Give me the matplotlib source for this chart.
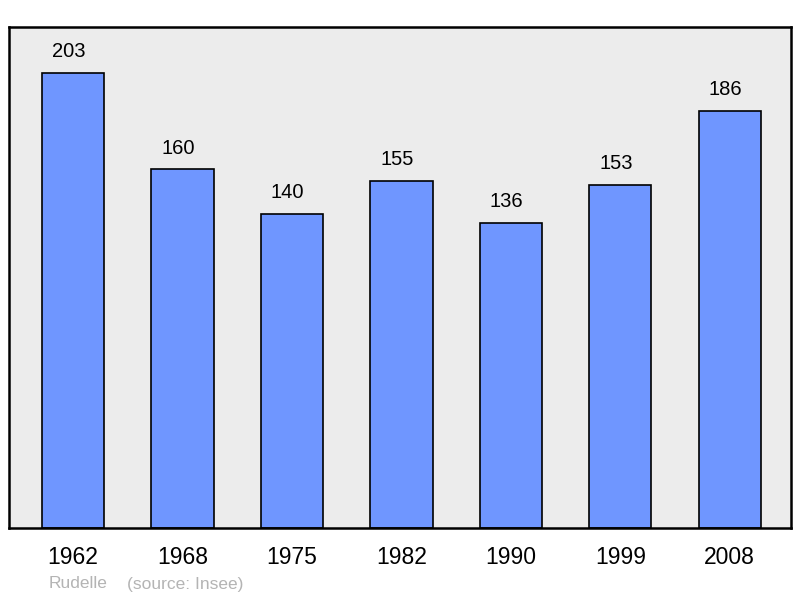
import matplotlib.pyplot as plt

# population by census year
years = ["1962", "1968", "1975", "1982", "1990", "1999", "2008"]
population = [203, 160, 140, 155, 136, 153, 186]

plt.rcParams['font.family'] = ['Liberation Sans', 'DejaVu Sans']

fig = plt.figure(figsize=(8, 5.98), dpi=100)
ax = fig.add_axes([0.01125, 0.117, 0.9775, 0.8378])
ax.set_facecolor('#ececec')

x = range(len(years))
ax.bar(x, population, width=0.57, color='#6f96ff', edgecolor='black', linewidth=1.2, zorder=2)

# value labels over each bar (sit a little left of center in the original)
for i, v in zip(x, population):
    ax.text(i - 0.04, v + 9.5, str(v), ha='center', va='center', fontsize=14.5)

ax.set_xlim(-0.585, 6.56)
ax.set_ylim(0, 223.5)
ax.set_yticks([])
ax.set_xticks(list(x))
ax.set_xticklabels(years, fontsize=16.5)
ax.tick_params(axis='x', length=0, pad=13)
for s in ax.spines.values():
    s.set_linewidth(1.8)

fig.text(49 / 800, 1 - 584 / 598, "Rudelle", color='#b4b4b4', fontsize=12.5, va='center')
fig.text(127 / 800, 1 - 584 / 598, "(source: Insee)", color='#b4b4b4', fontsize=12.5, va='center')

plt.savefig('out.png')
